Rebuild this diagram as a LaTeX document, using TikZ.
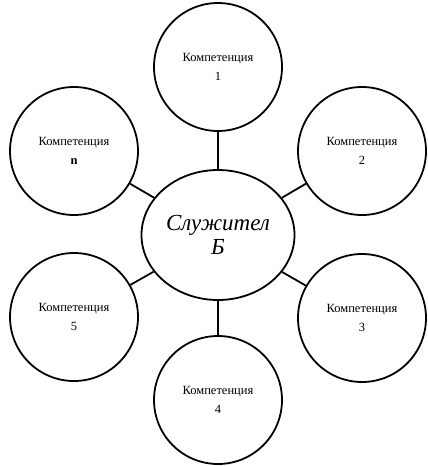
\documentclass[tikz,border=0pt]{standalone}
\usepackage{fontspec}
\setmainfont{Liberation Serif}
\usetikzlibrary{shapes.geometric}
\begin{document}
\begin{tikzpicture}[x=1pt,y=-1pt,
  comp/.style={circle,draw=black,line width=1.8pt,minimum size=128pt,inner sep=0pt,
    align=center,font=\fontsize{12.5}{19}\selectfont},
  center/.style={ellipse,draw=black,line width=1.8pt,minimum width=153pt,minimum height=130pt,
    inner sep=0pt,align=center,font=\fontsize{23}{24}\selectfont\itshape},
  link/.style={line width=1.8pt}]
\useasboundingbox (0,0) rectangle (428,466);
\node[center] (c) at (218,235) {Служител\\Б};
\node[comp] (k1) at (218,67) {Компетенция\\1};
\node[comp] (k2) at (362,151) {Компетенция\\2};
\node[comp] (k3) at (362,318) {Компетенция\\3};
\node[comp] (k4) at (218,400) {Компетенция\\4};
\node[comp] (k5) at (74,317) {Компетенция\\5};
\node[comp] (kn) at (74,151) {Компетенция\\\textbf{n}};
\foreach \k in {k1,k2,k3,k4,k5,kn} \draw[link] (c) -- (\k);
\end{tikzpicture}
\end{document}
